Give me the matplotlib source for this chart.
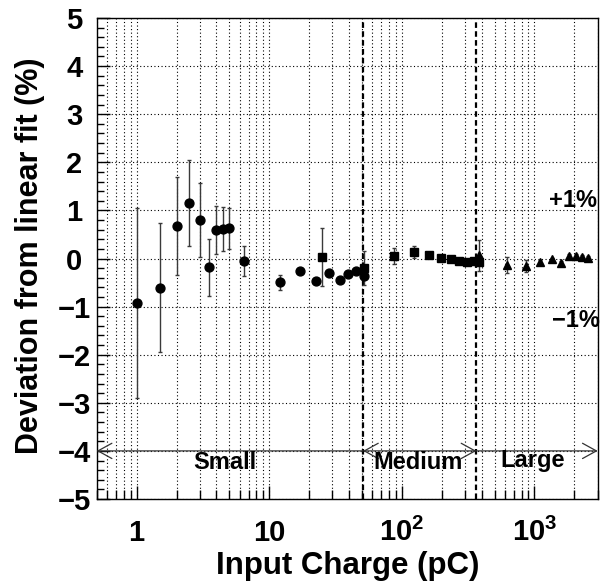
import matplotlib
matplotlib.use('Agg')
import matplotlib.pyplot as plt
from matplotlib.ticker import FixedLocator, LogLocator, NullFormatter, FixedFormatter
import matplotlib.transforms as mtransforms

plt.rcParams['font.family'] = ['Liberation Sans', 'DejaVu Sans']
plt.rcParams['font.weight'] = 'bold'
plt.rcParams['mathtext.fontset'] = 'custom'
plt.rcParams['mathtext.rm'] = 'Liberation Sans:bold'
plt.rcParams['mathtext.bf'] = 'Liberation Sans:bold'
plt.rcParams['mathtext.it'] = 'Liberation Sans:bold'
plt.rcParams['axes.unicode_minus'] = True

# ---- data ----
small_x = [1, 1.5, 2, 2.5, 3, 3.5, 4, 4.5, 5, 6.5, 12, 17, 22.5, 28, 34, 39.5, 45, 51.5]
small_y = [-0.93, -0.61, 0.68, 1.15, 0.80, -0.18, 0.59, 0.62, 0.63, -0.05, -0.49, -0.26,
           -0.46, -0.31, -0.45, -0.33, -0.27, -0.37]
small_err = [1.97, 1.34, 1.02, 0.89, 0.76, 0.59, 0.50, 0.46, 0.43, 0.31, 0.155, 0.05,
             0.05, 0.05, 0.05, 0.05, 0.05, 0.05]

medium_x = [25, 51.5, 87.5, 124, 161, 197, 233, 271, 310, 348, 384]
medium_y = [0.03, -0.20, 0.05, 0.14, 0.07, 0.02, -0.02, -0.05, -0.08, -0.05, -0.08]
medium_err = [0.61, 0.35, 0.16, 0.13, 0.05, 0.04, 0.03, 0.03, 0.03, 0.03, 0.03]

large_x = [382, 622, 867, 1099, 1347, 1594, 1820, 2056, 2300, 2554]
large_y = [0.07, -0.14, -0.16, -0.08, -0.02, -0.10, 0.05, 0.05, 0.04, 0.01]
large_err = [0.32, 0.17, 0.12, 0.04, 0.04, 0.04, 0.04, 0.04, 0.04, 0.04]

boundaries = [51, 365]
range_names = ['Small', 'Medium', 'Large']
range_label_x = [4.6, 133, 967]
xlim = (0.5, 3000)
ylim = (-5, 5)
x_major_ticks = [1, 10, 100, 1000]
x_tick_labels = ['1', '10', r'$\mathbf{10^{2}}$', r'$\mathbf{10^{3}}$']
y_ticks = [-5, -4, -3, -2, -1, 0, 1, 2, 3, 4, 5]

# ---- figure ----
W, H = 603, 586
fig = plt.figure(figsize=(W / 100, H / 100), dpi=100)
L, R, T, B = 96.7, 597.7, 18, 499
ax = fig.add_axes([L / W, 1 - B / H, (R - L) / W, (B - T) / H])
ax.set_xscale('log')
ax.set_xlim(*xlim)
ax.set_ylim(*ylim)

# grid
dot = (0, (1, 2.2))
ax.xaxis.set_major_locator(FixedLocator(x_major_ticks))
ax.xaxis.set_minor_locator(LogLocator(base=10, subs=[2, 3, 4, 5, 6, 7, 8, 9], numticks=20))
ax.xaxis.set_minor_formatter(NullFormatter())
ax.xaxis.set_major_formatter(FixedFormatter(x_tick_labels))
ax.yaxis.set_major_locator(FixedLocator(y_ticks))
ax.yaxis.set_minor_locator(FixedLocator([v / 5 for v in range(-25, 26)]))
ax.grid(True, which='both', axis='x', linestyle=dot, color='black', lw=0.8)
ax.grid(True, which='major', axis='y', linestyle=dot, color='black', lw=0.8)
ax.set_axisbelow(True)

# ticks
ax.tick_params(axis='both', which='both', direction='in', top=False, right=False, width=1)
ax.tick_params(axis='y', which='major', length=9.5, labelsize=21, pad=16.2)
ax.tick_params(axis='y', which='minor', length=5)
ax.tick_params(axis='x', which='major', length=9.5, labelsize=21, pad=30.5)
ax.tick_params(axis='x', which='minor', length=6.5)
for lab in ax.get_yticklabels():
    lab.set_horizontalalignment('center')
    lab.set_fontweight('bold')
for lab in ax.get_xticklabels():
    lab.set_verticalalignment('baseline')
    lab.set_fontweight('bold')

for s in ax.spines.values():
    s.set_linewidth(1.0)
    s.set_color('black')

# region boundaries
for b in boundaries:
    ax.axvline(b, color='black', lw=1.6, linestyle=(0, (2.5, 1.5)), zorder=2)

# range arrows
arrow_y = -4
ap = dict(color='#333333', lw=0.9, shrinkA=0, shrinkB=0)
ax.annotate('', xy=(xlim[0], arrow_y), xytext=(boundaries[0], arrow_y),
            arrowprops=dict(arrowstyle='->,head_length=1.0,head_width=0.55', **ap))
ax.annotate('', xy=(boundaries[1], arrow_y), xytext=(boundaries[0], arrow_y),
            arrowprops=dict(arrowstyle='<->,head_length=1.0,head_width=0.55', **ap))
ax.annotate('', xy=(xlim[1], arrow_y), xytext=(boundaries[1], arrow_y),
            arrowprops=dict(arrowstyle='->,head_length=1.0,head_width=0.55', **ap))
for name, xx, yy in zip(range_names, range_label_x, [-4.25, -4.25, -4.2]):
    ax.text(xx, yy, name, ha='center', va='center', fontsize=17, fontweight='bold')

# data
ekw = dict(color='black', ecolor='#3a3a3a', elinewidth=1.0, capsize=1.6, capthick=1.0,
           linestyle='none', zorder=4)
ax.errorbar(small_x, small_y, yerr=small_err, marker='o', ms=6.4, **ekw)
ax.errorbar(medium_x, medium_y, yerr=medium_err, marker='s', ms=6.0, **ekw)
ax.errorbar(large_x, large_y, yerr=large_err, marker='^', ms=6.2, **ekw)

# +/-1% labels
trans = mtransforms.blended_transform_factory(ax.transAxes, ax.transData)
ax.text(0.998, 1.2, '+1%', transform=trans, ha='right', va='center', fontsize=17,
        fontweight='bold')
ax.text(1.004, -1.28, '\u22121%', transform=trans, ha='right', va='center', fontsize=17,
        fontweight='bold', clip_on=False)

# axis titles
fig.text(348 / W, 1 - 566 / H, 'Input Charge (pC)', ha='center', va='center',
         fontsize=22.5, fontweight='bold')
fig.text(30 / W, 1 - 256 / H, 'Deviation from linear fit (%)', ha='center', va='center',
         rotation=90, fontsize=22, fontweight='bold')

fig.savefig('out.png', dpi=100)
